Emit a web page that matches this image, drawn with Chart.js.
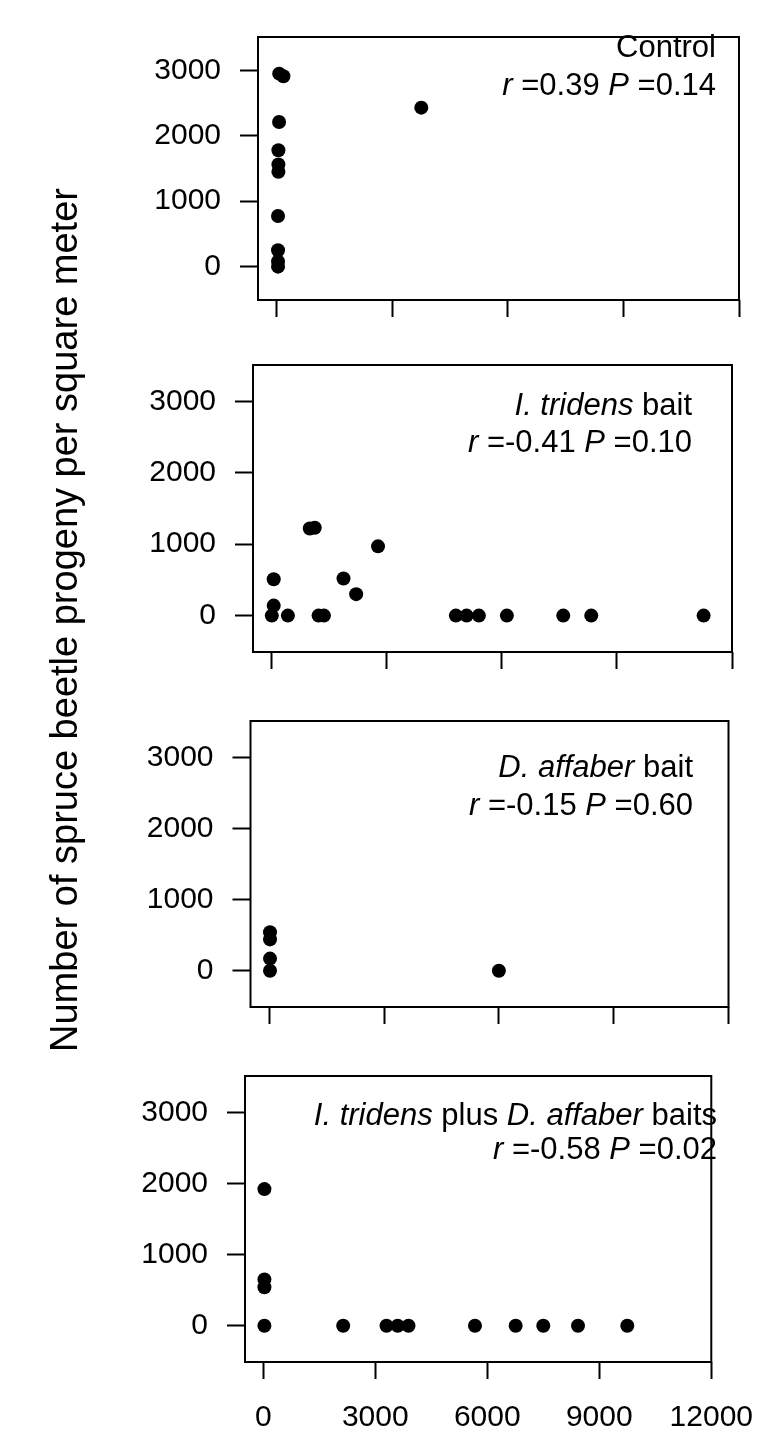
<!DOCTYPE html>
<html>
<head>
<meta charset="utf-8">
<script src="https://cdn.jsdelivr.net/npm/chart.js@4/dist/chart.umd.min.js"></script>
<style>
  html, body { margin: 0; padding: 0; background: #ffffff; }
  #fig { position: relative; width: 774px; height: 1433px; overflow: hidden; }
  #fig canvas { position: absolute; left: 0; top: 0; pointer-events: none; }
</style>
</head>
<body>
<div id="fig">
  <canvas id="panel1" width="774" height="1433"></canvas>
  <canvas id="panel2" width="774" height="1433"></canvas>
  <canvas id="panel3" width="774" height="1433"></canvas>
  <canvas id="panel4" width="774" height="1433"></canvas>
</div>
<script>
// Shared axes
const xTicks = [0, 3000, 6000, 9000, 12000];
const yTicks = [0, 1000, 2000, 3000];
const xLimits = [-490, 12000];
const yLimits = [-510, 3510];
const yTitle = 'Number of spruce beetle progeny per square meter';

// Control
const controlX = [60, 170, 57, 40, 40, 40, 30, 30, 30, 30, 3750];
const controlY = [2950, 2910, 2210, 1780, 1560, 1450, 775, 250, 80, 0, 2430];
const controlStats = ['0.39', '0.14'];

// I. tridens bait
const tridensX = [50, 50, 0, 420, 990, 1120, 1220, 1360, 1870, 2200, 2770, 4800, 5080, 5400, 6130, 7600, 8330, 11260];
const tridensY = [510, 140, 0, 0, 1220, 1230, 0, 0, 520, 300, 970, 0, 0, 0, 0, 0, 0, 0];
const tridensStats = ['-0.41', '0.10'];

// D. affaber bait
const affaberX = [20, 20, 20, 20, 6000];
const affaberY = [540, 440, 170, 0, 0];
const affaberStats = ['-0.15', '0.60'];

// I. tridens plus D. affaber baits
const bothX = [30, 30, 30, 30, 2140, 3300, 3600, 3890, 5670, 6760, 7500, 8430, 9750];
const bothY = [1920, 650, 540, 0, 0, 0, 0, 0, 0, 0, 0, 0, 0];
const bothStats = ['-0.58', '0.02'];

const FONT = '"Liberation Sans", Arial, Helvetica, sans-serif';

function statsLine(s) {
  return [['r', true], [' =' + s[0] + ' ', false], ['P', true], [' =' + s[1], false]];
}

const panels = [
  { id: 'panel1', xs: controlX, ys: controlY, box: [258, 13, 739, 300], xLabels: false,
    textRight: 716, baselines: [57, 95],
    lines: [[['Control', false]], statsLine(controlStats)] },
  { id: 'panel2', xs: tridensX, ys: tridensY, box: [253, 365, 732, 652], xLabels: false,
    textRight: 692, baselines: [415, 452],
    lines: [[['I. tridens', true], [' bait', false]], statsLine(tridensStats)] },
  { id: 'panel3', xs: affaberX, ys: affaberY, box: [250.5, 721, 728.5, 1007], xLabels: false,
    textRight: 693, baselines: [777, 815],
    lines: [[['D. affaber', true], [' bait', false]], statsLine(affaberStats)] },
  { id: 'panel4', xs: bothX, ys: bothY, box: [245, 1076, 727, 1362], xLabels: true,
    textRight: 717, baselines: [1125, 1159],
    lines: [[['I. tridens', true], [' plus ', false], ['D. affaber', true], [' baits', false]], statsLine(bothStats)],
    title: true }
];

// Frame around the plotting region, the panel legend text and the shared y title
const panelDecor = {
  id: 'panelDecor',
  afterDraw(chart, args, opts) {
    const ctx = chart.ctx;
    const a = chart.chartArea;
    ctx.save();
    ctx.strokeStyle = '#000';
    ctx.lineWidth = 2;
    ctx.strokeRect(a.left, a.top, a.right - a.left, a.bottom - a.top);

    ctx.fillStyle = '#000';
    ctx.textBaseline = 'alphabetic';
    ctx.textAlign = 'left';
    opts.lines.forEach((runs, i) => {
      const fonts = runs.map(r => (r[1] ? 'italic ' : '') + '31px ' + FONT);
      let total = 0;
      runs.forEach((r, k) => { ctx.font = fonts[k]; total += ctx.measureText(r[0]).width; });
      let x = opts.textRight - total;
      runs.forEach((r, k) => {
        ctx.font = fonts[k];
        ctx.fillText(r[0], x, opts.baselines[i]);
        x += ctx.measureText(r[0]).width;
      });
    });

    if (opts.title) {
      ctx.font = '38px ' + FONT;
      ctx.textAlign = 'center';
      ctx.translate(77, 620);
      ctx.rotate(-Math.PI / 2);
      ctx.fillText(yTitle, 0, 0);
    }
    ctx.restore();
  }
};

panels.forEach(p => {
  const [bl, bt, br, bb] = p.box;
  const canvas = document.getElementById(p.id);
  new Chart(canvas, {
    type: 'scatter',
    data: {
      datasets: [{
        data: p.xs.map((x, i) => ({ x: x, y: p.ys[i] })),
        backgroundColor: '#000',
        borderWidth: 0,
        pointRadius: 7,
        pointHoverRadius: 7
      }]
    },
    options: {
      responsive: false,
      devicePixelRatio: 1,
      animation: false,
      events: [],
      layout: { padding: { top: bt, right: 774 - br, bottom: 0, left: 0 } },
      plugins: {
        legend: { display: false },
        tooltip: { enabled: false },
        panelDecor: { lines: p.lines, textRight: p.textRight, baselines: p.baselines, title: !!p.title }
      },
      scales: {
        x: {
          type: 'linear',
          position: 'bottom',
          min: xLimits[0],
          max: xLimits[1],
          afterBuildTicks: s => { s.ticks = xTicks.map(v => ({ value: v })); },
          afterFit: s => { s.height = 1433 - bb; },
          border: { display: false },
          grid: { drawOnChartArea: false, drawTicks: true, tickLength: 17, tickWidth: 2, tickColor: '#000' },
          ticks: {
            display: p.xLabels,
            autoSkip: false,
            maxRotation: 0,
            padding: 21,
            color: '#000',
            font: { family: FONT, size: 30 },
            callback: v => String(v)
          }
        },
        y: {
          type: 'linear',
          position: 'left',
          min: yLimits[0],
          max: yLimits[1],
          afterBuildTicks: s => { s.ticks = yTicks.map(v => ({ value: v })); },
          afterFit: s => { s.width = bl; },
          border: { display: false },
          grid: { drawOnChartArea: false, drawTicks: true, tickLength: 18, tickWidth: 2, tickColor: '#000' },
          ticks: {
            autoSkip: false,
            padding: 19,
            color: '#000',
            font: { family: FONT, size: 30 },
            callback: v => String(v)
          }
        }
      }
    },
    plugins: [panelDecor]
  });
});
</script>
</body>
</html>
